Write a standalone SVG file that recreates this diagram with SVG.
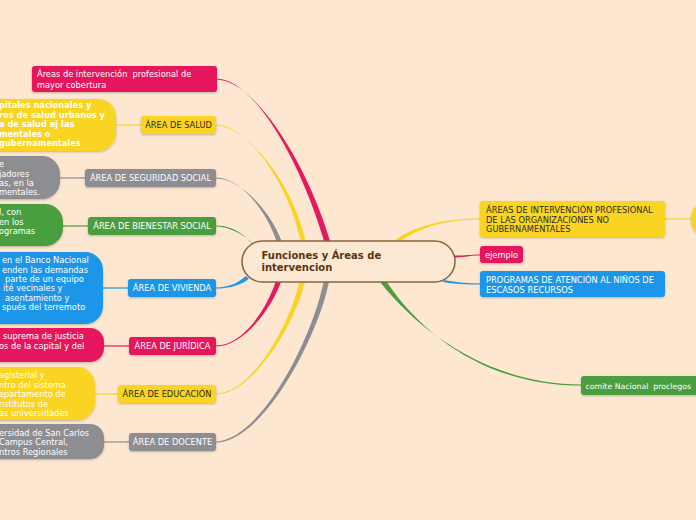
<svg xmlns="http://www.w3.org/2000/svg" width="696" height="520" viewBox="0 0 696 520">
<defs>
<filter id="sh" x="-10%" y="-20%" width="120%" height="150%">
<feDropShadow dx="0" dy="1" stdDeviation="0.8" flood-color="#000" flood-opacity="0.25"/>
</filter>
<style>
text{font-family:"DejaVu Sans","Verdana",sans-serif;font-size:8.25px}
.w{fill:#ffffff}
.d{fill:#2e2a20}
.b{font-weight:bold}
.pink{fill:#e5195d}
.yel{fill:#f9d423}
.gray{fill:#8d8d92}
.grn{fill:#4a9f3f}
.blu{fill:#1f96e8}
.ln{fill:none;stroke-width:1.2}
.node rect{filter:url(#sh)}
</style>
</defs>
<rect x="0" y="0" width="696" height="520" fill="#fde7d0"/>

<g id="connectors">
<!-- upper left tapered -->
<path class="pink" d="M216,78.4 C255,78.4 302,165 324,241 L330,241 C308,165 255,79.6 216,79.6 Z"/>
<path class="yel" d="M216,124.4 C245,124.4 288,180 300.5,241 L305.5,241 C292,180 245,125.6 216,125.6 Z"/>
<path class="gray" d="M216,177.4 C240,177.4 266,210 276.5,241 L281.5,241 C270,210 240,178.6 216,178.6 Z"/>
<path class="grn" d="M216,225.4 C230,225.4 243,233 250,241.5 L253.5,244.5 C246,236 230,226.6 216,226.6 Z"/>
<!-- lower left tapered -->
<path class="blu" d="M216,287.4 C230,287.4 240,282 245.5,276 L249,278.5 C243,284.5 230,288.6 216,288.6 Z"/>
<path class="pink" d="M216,345.4 C245,345.4 268,305 275.5,282 L281,282 C273,305 245,346.6 216,346.6 Z"/>
<path class="yel" d="M216,393.4 C250,393.4 288,330 299.5,282 L305,282 C293,330 250,394.6 216,394.6 Z"/>
<path class="gray" d="M216,441.4 C260,440.4 312,340 323.5,282 L329,282 C317,340 262,442.6 216,442.6 Z"/>
<!-- right tapered -->
<path class="yel" d="M394,241 C410,228 440,218.4 480,218.4 L480,219.6 C440,219.6 414,231 400,242 Z"/>
<path class="pink" d="M455,255.6 C465,255.6 470,254.4 480,254.4 L480,255.6 C470,255.6 465,257.4 455,257.4 Z"/>
<path class="blu" d="M444,280 C455,282 465,283.4 480,283.4 L480,284.6 C465,284.6 455,284 443,282 Z"/>
<path class="grn" d="M380,282 C428,342 500,384.4 581,384.4 L581,385.6 C498,385.6 430,346 386,281 Z"/>
<!-- level 2 links -->
<line class="ln" stroke="#f9d423" x1="116" y1="125" x2="141" y2="125"/>
<line class="ln" stroke="#8d8d92" x1="60" y1="178" x2="85" y2="178"/>
<line class="ln" stroke="#4a9f3f" x1="63" y1="226" x2="88" y2="226"/>
<line class="ln" stroke="#1f96e8" x1="103" y1="288" x2="128" y2="288"/>
<line class="ln" stroke="#e5195d" x1="104" y1="346" x2="129" y2="346"/>
<line class="ln" stroke="#f9d423" x1="95" y1="394" x2="118" y2="394"/>
<line class="ln" stroke="#8d8d92" x1="104" y1="442" x2="129" y2="442"/>
<line class="ln" stroke="#f9d423" x1="665" y1="219" x2="691" y2="219"/>
</g>

<g id="center">
<rect x="242" y="241" width="213" height="41" rx="20.5" fill="#fde8d3" stroke="#8b6442" stroke-width="1.5"/>
<text x="261.5" y="258.5" class="b" style="font-size:10px;fill:#5a3512">Funciones y Áreas de</text>
<text x="261.5" y="271" class="b" style="font-size:10px;fill:#5a3512">intervencion</text>
</g>

<g id="n-areas-cobertura" class="node">
<rect class="pink" x="32" y="66" width="185" height="26" rx="3"/>
<text class="w" x="37" y="77" xml:space="preserve">Áreas de intervención  profesional de</text>
<text class="w" x="37" y="87.5">mayor cobertura</text>
</g>

<g id="n-salud" class="node">
<rect class="yel" x="141" y="116" width="75" height="18" rx="3"/>
<text class="d" x="178.5" y="128" text-anchor="middle">ÁREA DE SALUD</text>
</g>
<g id="n-salud-2" class="node">
<rect class="yel" x="-30" y="99" width="146" height="52" rx="18"/>
<text class="w b" x="-1" y="108">pitales nacionales y</text>
<text class="w b" x="-1" y="117.5">ros de salud urbanos y</text>
<text class="w b" x="-1" y="127">a de salud ej las</text>
<text class="w b" x="-1" y="136.5">mentales o</text>
<text class="w b" x="-1" y="146">gubernamentales</text>
</g>

<g id="n-seguridad" class="node">
<rect class="gray" x="85" y="169" width="131" height="18" rx="3"/>
<text class="w" x="150.5" y="181" text-anchor="middle">ÁREA DE SEGURIDAD SOCIAL</text>
</g>
<g id="n-seguridad-2" class="node">
<rect class="gray" x="-30" y="156" width="90" height="43" rx="18"/>
<text class="w" x="-1" y="167">e</text>
<text class="w" x="-1" y="176.5">jadores</text>
<text class="w" x="-1" y="186">as, en la</text>
<text class="w" x="-1" y="195">mentales.</text>
</g>

<g id="n-bienestar" class="node">
<rect class="grn" x="88" y="217" width="128" height="18" rx="3"/>
<text class="w" x="152" y="229" text-anchor="middle">ÁREA DE BIENESTAR SOCIAL</text>
</g>
<g id="n-bienestar-2" class="node">
<rect class="grn" x="-30" y="204" width="93" height="42" rx="18"/>
<text class="w" x="-1" y="215">l, con</text>
<text class="w" x="-1" y="224.5">en los</text>
<text class="w" x="-1" y="234">ogramas</text>
</g>

<g id="n-vivienda" class="node">
<rect class="blu" x="128" y="279" width="88" height="18" rx="3"/>
<text class="w" x="172" y="291" text-anchor="middle">ÁREA DE VIVIENDA</text>
</g>
<g id="n-vivienda-2" class="node">
<rect class="blu" x="-30" y="252" width="133" height="72" rx="18"/>
<text class="w" x="2" y="263">en el Banco Nacional</text>
<text class="w" x="2" y="272.5">enden las demandas</text>
<text class="w" x="5" y="282">parte de un equipo</text>
<text class="w" x="3" y="291">ité vecinales y</text>
<text class="w" x="5" y="300.5">asentamiento y</text>
<text class="w" x="2" y="310">spués del terremoto</text>
</g>

<g id="n-juridica" class="node">
<rect class="pink" x="129" y="337" width="87" height="18" rx="3"/>
<text class="w" x="172.5" y="349" text-anchor="middle">ÁREA DE JURÍDICA</text>
</g>
<g id="n-juridica-2" class="node">
<rect class="pink" x="-30" y="328" width="134" height="34" rx="14"/>
<text class="w" x="3" y="339">suprema de justicia</text>
<text class="w" x="-1" y="349">os de la capital y del</text>
</g>

<g id="n-educacion" class="node">
<rect class="yel" x="118" y="385" width="98" height="18" rx="3"/>
<text class="d" x="167" y="397" text-anchor="middle">ÁREA DE EDUCACIÓN</text>
</g>
<g id="n-educacion-2" class="node">
<rect class="yel" x="-30" y="367" width="125" height="53" rx="18"/>
<text class="w" x="-1" y="378">agisterial y</text>
<text class="w" x="-1" y="387.5">ntro del sistema</text>
<text class="w" x="-1" y="397">epartamento de</text>
<text class="w" x="-1" y="406.5">nstitutos de</text>
<text class="w" x="-1" y="416">as universidades</text>
</g>

<g id="n-docente" class="node">
<rect class="gray" x="129" y="433" width="87" height="18" rx="3"/>
<text class="w" x="172.5" y="445" text-anchor="middle">ÁREA DE DOCENTE</text>
</g>
<g id="n-docente-2" class="node">
<rect class="gray" x="-30" y="424" width="134" height="35" rx="14"/>
<text class="w" x="-1" y="435.5">ersidad de San Carlos</text>
<text class="w" x="-1" y="445">Campus Central,</text>
<text class="w" x="-1" y="454.5">ntros Regionales</text>
</g>

<g id="n-ong" class="node">
<rect class="yel" x="480" y="201" width="185" height="36" rx="3"/>
<text class="d" x="486" y="213">ÁREAS DE INTERVENCIÓN PROFESIONAL</text>
<text class="d" x="486" y="222.5">DE LAS ORGANIZACIONES NO</text>
<text class="d" x="486" y="232">GUBERNAMENTALES</text>
</g>
<g id="n-ong-2" class="node">
<rect class="yel" x="691" y="201" width="60" height="36" rx="17"/>
</g>

<g id="n-ejemplo" class="node">
<rect class="pink" x="480" y="246" width="43" height="17" rx="3"/>
<text class="w" x="485" y="258">ejemplo</text>
</g>

<g id="n-programas" class="node">
<rect class="blu" x="480" y="271" width="185" height="26" rx="3"/>
<text class="w" x="486" y="283">PROGRAMAS DE ATENCIÓN AL NIÑOS DE</text>
<text class="w" x="486" y="292.5">ESCASOS RECURSOS</text>
</g>

<g id="n-comite" class="node">
<rect class="grn" x="581" y="376" width="130" height="19" rx="3"/>
<text class="w" x="585.5" y="389" style="font-size:7.8px" xml:space="preserve">comite Nacional  proclegos</text>
</g>
</svg>
